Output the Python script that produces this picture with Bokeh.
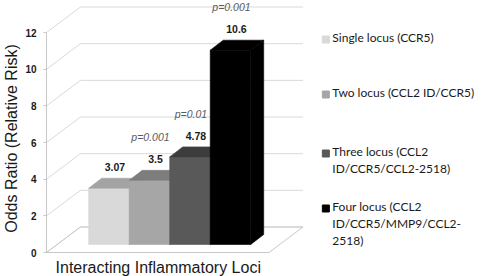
from bokeh.plotting import figure
from bokeh.models import Range1d, FixedTicker, ColumnDataSource
from bokeh.core.properties import value
from bokeh.embed import file_html
from bokeh.resources import INLINE

# ---------------- data ----------------
categories = [
    "Single locus (CCR5)",
    "Two locus (CCL2 ID/CCR5)",
    "Three locus (CCL2\nID/CCR5/CCL2-2518)",
    "Four locus (CCL2\nID/CCR5/MMP9/CCL2-\n2518)",
]
odds_ratios = [3.07, 3.5, 4.78, 10.6]
value_labels = ["3.07", "3.5", "4.78", "10.6"]
p_values = ["", "p=0.001", "p=0.01", "p=0.001"]
y_ticks = [0, 2, 4, 6, 8, 10, 12]
x_title = "Interacting Inflammatory Loci"
y_title = "Odds Ratio (Relative Risk)"

# ---------------- styles ----------------
front_colors = ["#d9d9d9", "#a6a6a6", "#595959", "#000000"]
top_colors = ["#a3a3a3", "#7d7d7d", "#3d3d3d", "#000000"]
side_colors = ["#a3a3a3", "#7d7d7d", "#3d3d3d", "#000000"]
GRID = "#d9d9d9"
FLOOR = "#c8c8c8"

# ---------------- layout (pixels) ----------------
W, H = 481, 276
FRAME_LEFT = 45
SX = 40.6          # px per bar
SY = 18.33         # px per unit of odds ratio
ZERO_PX = 252      # pixel row of value 0 on front plane
BAR0_PX = 87.3     # left edge of first bar

x_start = -(BAR0_PX - FRAME_LEFT) / SX
x_end = x_start + (W - FRAME_LEFT) / SX
y_start = -(H - ZERO_PX) / SY
y_end = ZERO_PX / SY


def X(px):
    return x_start + (px - FRAME_LEFT) / SX


def Y(py):
    return y_end - py / SY


BASE = 8 / SY                  # bars sit a little behind the front plane
TDX, TDY = 13 / SX, 10 / SY    # bar depth
WDX, WDY = 34 / SX, 25.5 / SY  # wall depth
WALL_L = X(45)
FLOOR_R = X(268)
WALL_R = X(302)

p = figure(
    width=W, height=H,
    x_range=Range1d(x_start, x_end), y_range=Range1d(y_start, y_end),
    x_axis_type=None,
    output_backend="svg", toolbar_location=None,
    min_border_left=FRAME_LEFT, min_border_right=0,
    min_border_top=0, min_border_bottom=0,
)
p.outline_line_color = None
p.grid.visible = False
p.background_fill_color = "white"
p.border_fill_color = "white"

ax = p.yaxis[0]
ax.ticker = FixedTicker(ticks=y_ticks)
ax.bounds = (min(y_ticks), max(y_ticks))
ax.axis_line_color = FLOOR
ax.major_tick_line_color = FLOOR
ax.major_tick_out = 3
ax.major_tick_in = 0
ax.minor_tick_out = 0
ax.minor_tick_in = 0
ax.major_label_text_font = "Liberation Sans"
ax.major_label_text_font_size = "10px"
ax.major_label_text_font_style = "bold"
ax.major_label_text_color = "#1a1a1a"
ax.major_label_standoff = 7
ax.axis_label = y_title
ax.axis_label_text_font = "Liberation Sans"
ax.axis_label_text_font_size = "16px"
ax.axis_label_text_font_style = "normal"
ax.axis_label_text_color = "#1a1a1a"
ax.axis_label_standoff = 2

# ---------------- walls ----------------
gx, gy = [], []
for v in y_ticks:
    # side wall
    gx.append([WALL_L, WALL_L + WDX])
    gy.append([v, v + WDY])
    # back wall
    gx.append([WALL_L + WDX, WALL_R])
    gy.append([v + WDY, v + WDY])
p.multi_line(xs=gx, ys=gy, line_color=GRID, line_width=1)

p.patch(x=[WALL_L, FLOOR_R, WALL_R, WALL_L + WDX],
        y=[0, 0, WDY, WDY], fill_color=None, line_color=FLOOR, line_width=1)

# ---------------- bars ----------------
xs, ys, cols = [], [], []
for i, v in enumerate(odds_ratios):
    l, r = i, i + 1
    b, t = BASE, BASE + v
    # right side face
    xs.append([r, r + TDX, r + TDX, r]); ys.append([b, b + TDY, t + TDY, t]); cols.append(side_colors[i])
    # front face
    xs.append([l, r, r, l]); ys.append([b, b, t, t]); cols.append(front_colors[i])
    # top face
    xs.append([l, l + TDX, r + TDX, r]); ys.append([t, t + TDY, t + TDY, t]); cols.append(top_colors[i])
p.patches(xs=xs, ys=ys, fill_color=cols, line_color=cols, line_width=0.6)

# value labels
lab = ColumnDataSource(dict(
    x=[i + 0.5 + 6 / SX for i in range(len(odds_ratios))],
    y=[BASE + v + 21 / SY for v in odds_ratios],
    py=[BASE + v + 43 / SY for v in odds_ratios],
    px=[i + 0.5 + 1 / SX for i in range(len(odds_ratios))],
    t=value_labels, pv=p_values,
))
p.text(x="x", y="y", text="t", source=lab, text_align="center", text_baseline="middle",
       text_font=value("Liberation Sans"), text_font_size="10.5px", text_font_style="bold",
       text_color="#1a1a1a")
p.text(x="px", y="py", text="pv", source=lab, text_align="center", text_baseline="middle",
       text_font=value("Liberation Sans"), text_font_size="10.5px", text_font_style="italic",
       text_color="#595959")

# x title
p.text(x=[X(157)], y=[Y(267)], text=[x_title], text_align="center", text_baseline="middle",
       text_font=value("Liberation Sans"), text_font_size="16px", text_color="#1a1a1a")

# ---------------- legend ----------------
LEG_Y_PX = [39, 94, 153, 208]
p.scatter(x=[X(325)] * len(categories), y=[Y(py) for py in LEG_Y_PX], marker="square",
          size=7, fill_color=front_colors, line_color=front_colors)
p.text(x=[X(331.5)] * len(categories), y=[Y(py - 9.5) for py in LEG_Y_PX], text=categories,
       text_align="left", text_baseline="top", text_line_height=1.12,
       text_font=value("Lato"), text_font_size="12px", text_color="#1a1a1a")

open("out.html", "w").write(file_html(p, INLINE))
